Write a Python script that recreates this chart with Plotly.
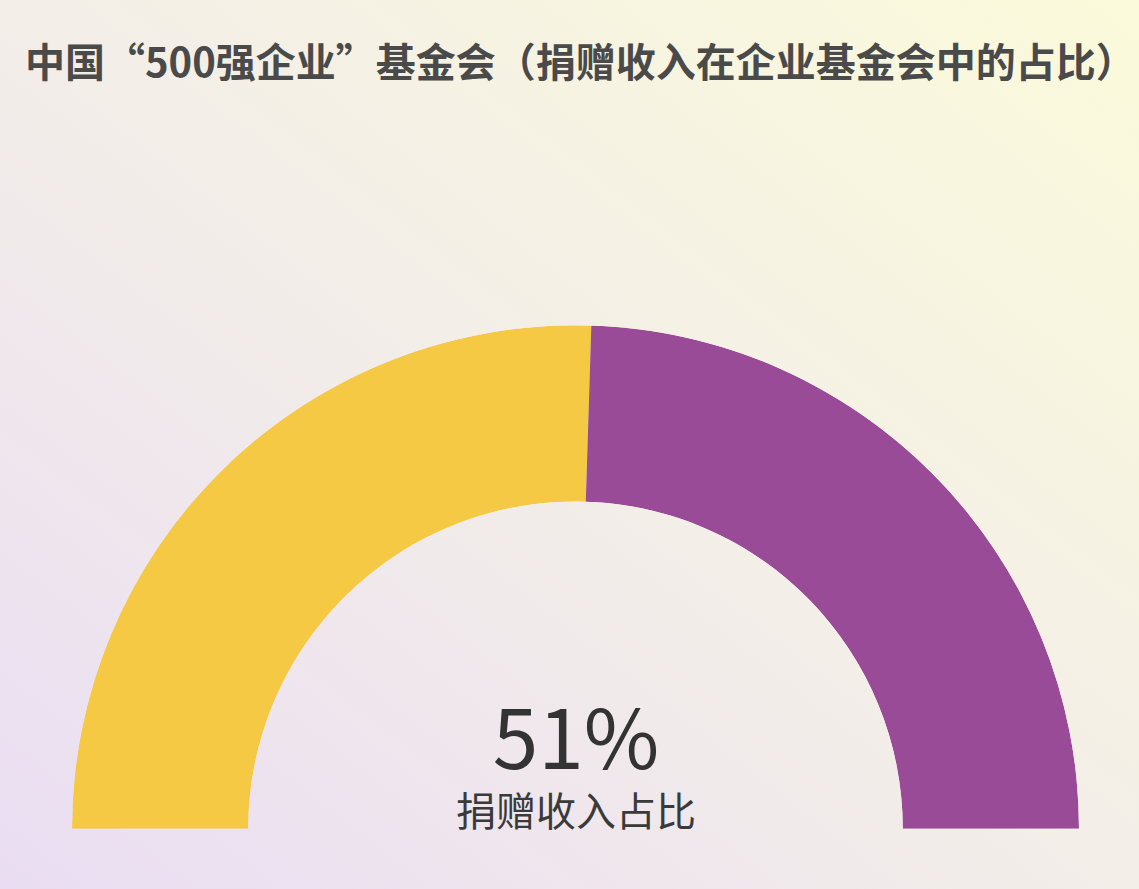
import base64
import plotly.graph_objects as go

# data
title_text = "中国“500强企业”基金会（捐赠收入在企业基金会中的占比）"
labels = ["捐赠收入", "其他收入"]
share = [51, 49]
center_label = "捐赠收入占比"

colors = ["#F5C944", "#9A4B98"]

# half circle: 180 deg split by share, starting from the left (180 deg)
total = sum(share)
widths = [s / total * 180 for s in share]
thetas = []
start = 180
for w in widths:
    thetas.append(start - w / 2)
    start -= w

# soft diagonal gradient background (lavender bottom-left -> pale yellow top-right)
svg = """<svg xmlns='http://www.w3.org/2000/svg' width='1139' height='889' preserveAspectRatio='none'>
<defs><linearGradient id='g' x1='0' y1='1' x2='1' y2='0'>
<stop offset='0' stop-color='#EADDF3'/>
<stop offset='0.5' stop-color='#F3EEE8'/>
<stop offset='1' stop-color='#FBFADA'/>
</linearGradient></defs>
<rect width='1139' height='889' fill='url(#g)'/></svg>"""
bg_src = "data:image/svg+xml;base64," + base64.b64encode(svg.encode("utf-8")).decode()

fig = go.Figure()
fig.add_trace(go.Barpolar(
    r=[1] * len(share),
    theta=thetas,
    width=widths,
    marker=dict(color=colors, line=dict(width=0)),
    text=labels,
    hoverinfo="text",
    showlegend=False,
))

W, H = 1139, 889
# base size sets the line spacing, spans set the real sizes
center_text = (f"<span style='font-size:82px'>{share[0]}%</span><br>"
               f"<span style='font-size:40px;color:#3A3A3A'>{center_label}</span>")

fig.update_layout(
    width=W, height=H,
    margin=dict(l=0, r=0, t=0, b=0),
    paper_bgcolor="#F3EEE8",
    plot_bgcolor="rgba(0,0,0,0)",
    font=dict(family="Noto Sans CJK SC", color="#333333"),
    polar=dict(
        domain=dict(x=[72 / W, 1079 / W], y=[(H - 829) / H, (H - 325) / H]),
        sector=[0, 180],
        hole=0.65,
        bgcolor="rgba(0,0,0,0)",
        radialaxis=dict(visible=False, range=[0, 1], showgrid=False),
        angularaxis=dict(visible=False, showgrid=False),
    ),
    images=[dict(
        source=bg_src, xref="paper", yref="paper", x=0, y=1,
        sizex=1, sizey=1, sizing="stretch", layer="below",
    )],
    annotations=[
        dict(text="<b>" + title_text + "</b>", x=580 / W, y=1 - 60 / H,
             xref="paper", yref="paper", showarrow=False,
             xanchor="center", yanchor="middle",
             font=dict(size=40, color="#4A4A4A", family="Noto Sans CJK SC")),
        dict(text=center_text, x=576 / W, y=1 - 756 / H,
             xref="paper", yref="paper", showarrow=False,
             xanchor="center", yanchor="middle", align="center",
             font=dict(size=44, color="#333333", family="Noto Sans CJK SC")),
    ],
)

fig.write_html("out.html", config={"displayModeBar": False},
               post_script="document.body.style.margin='0';")
